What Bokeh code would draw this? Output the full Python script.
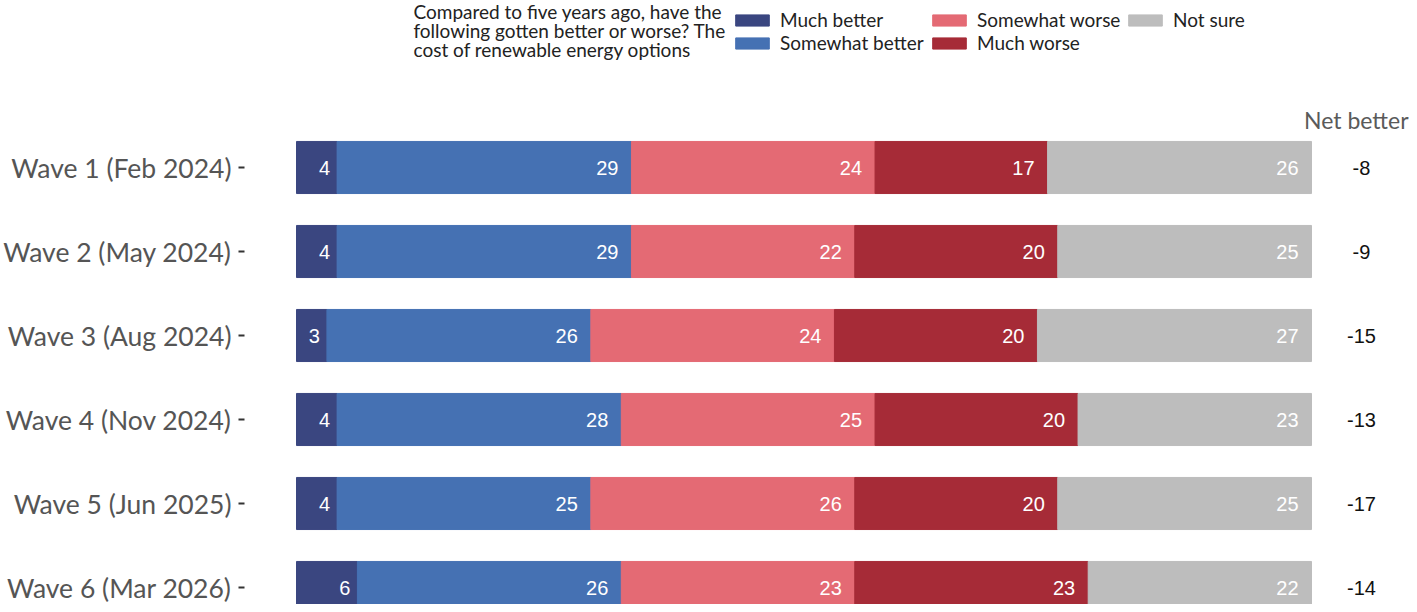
from bokeh.plotting import figure
from bokeh.models import ColumnDataSource, Range1d, FixedTicker, Legend, LegendItem
from bokeh.core.properties import value
from bokeh.embed import file_html
from bokeh.resources import INLINE

# ---------------- data ----------------
waves = ["Wave 1 (Feb 2024)", "Wave 2 (May 2024)", "Wave 3 (Aug 2024)",
         "Wave 4 (Nov 2024)", "Wave 5 (Jun 2025)", "Wave 6 (Mar 2026)"]
much_better = [4, 4, 3, 4, 4, 6]
somewhat_better = [29, 29, 26, 28, 25, 26]
somewhat_worse = [24, 22, 24, 25, 26, 23]
much_worse = [17, 20, 20, 20, 20, 23]
not_sure = [26, 25, 27, 23, 25, 22]
net_better = [-8, -9, -15, -13, -17, -14]

series_keys = ["much_better", "somewhat_better", "somewhat_worse", "much_worse", "not_sure"]
series_names = ["Much better", "Somewhat better", "Somewhat worse", "Much worse", "Not sure"]
series_colors = ["#3a4680", "#4571b3", "#e46a74", "#a62b37", "#bdbdbd"]
question = ["Compared to five years ago, have the",
            "following gotten better or worse? The",
            "cost of renewable energy options"]
net_header = "Net better"

# ---------------- layout (pixels) ----------------
W, H = 1409, 604
LEFT = 244          # frame left edge
ZERO_PX = 296       # pixel of x = 0
PX_PER_UNIT = 10.15
ROW_PX = 84
FIRST_ROW_PX = 167  # centre of first bar from top

x_start = -(ZERO_PX - LEFT) / PX_PER_UNIT
x_end = x_start + (W - LEFT) / PX_PER_UNIT
n = len(waves)
y_end = (n - 1) + FIRST_ROW_PX / ROW_PX
y_start = y_end - H / ROW_PX


def px_x(px):
    return x_start + (px - LEFT) / PX_PER_UNIT


def px_y(py):
    return y_end - py / ROW_PX


ys = [n - 1 - i for i in range(n)]
data = dict(y=ys, wave=waves, much_better=much_better, somewhat_better=somewhat_better,
            somewhat_worse=somewhat_worse, much_worse=much_worse, not_sure=not_sure,
            net=[str(v) for v in net_better])
series_vals = [much_better, somewhat_better, somewhat_worse, much_worse, not_sure]
cum = [0] * n
for k, vals in zip(series_keys, series_vals):
    cum = [c + v for c, v in zip(cum, vals)]
    data[k + "_end"] = list(cum)
    data[k + "_lbl"] = [str(v) for v in vals]
src = ColumnDataSource(data)

p = figure(width=W, height=H, output_backend="svg", toolbar_location=None,
           x_range=Range1d(x_start, x_end), y_range=Range1d(y_start, y_end),
           x_axis_location=None, min_border_left=LEFT, min_border_right=0,
           min_border_top=0, min_border_bottom=0)
p.outline_line_color = None
p.xgrid.visible = False
p.ygrid.visible = False
p.background_fill_color = "white"
p.border_fill_color = "white"

renderers = p.hbar_stack(series_keys, y="y", height=0.62, color=series_colors, source=src)

for k, vals in zip(series_keys, series_vals):
    # narrow single-digit labels sit closer to the segment end
    for pad, sel in ((-7, lambda v: v < 10), (-13, lambda v: v >= 10)):
        idx = [i for i, v in enumerate(vals) if sel(v)]
        if not idx:
            continue
        p.text(x=[data[k + "_end"][i] for i in idx], y=[ys[i] for i in idx],
               text=[data[k + "_lbl"][i] for i in idx], text_align="right",
               text_baseline="middle", x_offset=pad, text_color="white",
               text_font=value("Liberation Sans"), text_font_size="20px")

p.text(x=px_x(1361), y="y", text="net", source=src, text_align="center", text_baseline="middle",
       text_color="#111111", text_font=value("Liberation Sans"), text_font_size="20px")
p.text(x=[px_x(1408)], y=[px_y(119)], text=[net_header], text_align="right", text_baseline="middle",
       text_color="#5a5a5a", text_font=value("Lato"), text_font_size="23px")

p.text(x=[px_x(413)] * 3, y=[px_y(11), px_y(30), px_y(49)], text=question,
       text_align="left", text_baseline="middle", text_color="#222222",
       text_font=value("Lato"), text_font_size="19px")

yaxis = p.yaxis[0]
yaxis.ticker = FixedTicker(ticks=ys)
yaxis.major_label_overrides = {y: w for y, w in zip(ys, waves)}
yaxis.axis_line_color = None
yaxis.minor_tick_line_color = None
yaxis.major_tick_in = 0
yaxis.major_tick_out = 6
yaxis.major_tick_line_width = 2
yaxis.major_tick_line_color = "#333333"
yaxis.major_label_standoff = 7
yaxis.major_label_text_font = "Lato"
yaxis.major_label_text_font_size = "26.5px"
yaxis.major_label_text_color = "#555555"

items = [LegendItem(label=nm, renderers=[r]) for nm, r in zip(series_names, renderers)]
legend_cols = [(items[0:2], 487, 550), (items[2:4], 684, 550), (items[4:5], 880, 573)]
for col_items, lx, ly in legend_cols:
    lg = Legend(items=col_items, location=(lx, ly), orientation="vertical",
                glyph_width=42, glyph_height=14, label_standoff=7, spacing=0,
                padding=0, margin=0, border_line_color=None, background_fill_alpha=0,
                label_text_font="Lato", label_text_font_size="19px",
                label_text_color="#222222", label_height=20)
    p.add_layout(lg)

open("out.html", "w").write(file_html(p, INLINE))
